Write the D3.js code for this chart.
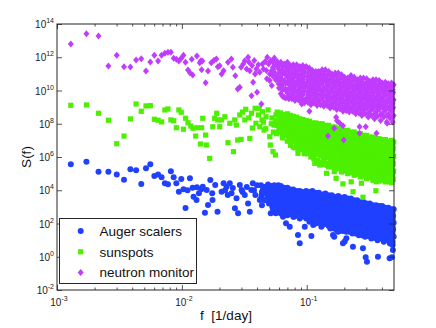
<!DOCTYPE html>
<html>
<head>
<meta charset="utf-8">
<script src="https://cdn.jsdelivr.net/npm/d3@7"></script>
<style>
body { margin: 0; background: #fff; }
svg { display: block; font-family: "Liberation Sans", Arial, Helvetica, sans-serif; }
</style>
</head>
<body>
<div id="chart"></div>
<script>
// periodogram points: [frequency (1/day), log10 S(f)]
var auger = [
  [0.00129,5.56],[0.00172,5.72],[0.00215,5.12],[0.00258,5.12],[0.00301,4.94],[0.00344,4.63],[0.00387,5.26],[0.0043,5.2],
  [0.00473,4.38],[0.00516,5.32],[0.00559,5.56],[0.00602,4.86],[0.00645,4.94],[0.00688,4.78],[0.00731,4.42],[0.00774,4.36],
  [0.00817,5.14],[0.0086,4.78],[0.00903,4.42],[0.00946,3.91],[0.00989,4.68],[0.0103,4.06],[0.0107,2.93],[0.0111,4.0],
  [0.0116,4.72],[0.0122,4.15],[0.0124,3.61],[0.0131,3.41],[0.0132,4.18],[0.0137,3.82],[0.0143,4.06],[0.0147,4.21],
  [0.0153,2.65],[0.0158,4.01],[0.0162,3.11],[0.0169,4.62],[0.0175,3.82],[0.0176,3.41],[0.0185,4.32],[0.0193,2.71],
  [0.0208,3.91],[0.0216,4.42],[0.0222,4.0],[0.0228,4.21],[0.0233,3.71],[0.0242,4.42],[0.025,3.82],[0.0256,4.13],
  [0.0266,2.91],[0.0274,3.52],[0.0282,2.61],[0.0291,4.32],[0.0301,4.01],[0.0306,3.9],[0.0319,3.71],[0.0331,4.2],
  [0.0339,3.21],[0.035,2.71],[0.036,4.01],[0.037,4.42],[0.0378,4.0],[0.0388,3.71],[0.04,4.3],[0.0421,3.41],
  [0.0435,3.7],[0.0445,4.01],[0.0463,4.0],[0.0472,4.21],[0.0481,3.5],[0.0506,3.82],[0.0515,2.61],[0.0522,4.1],
  [0.0565,2.61],[0.0573,3.7],[0.0593,4.3],[0.0608,3.4],[0.0646,2.41],[0.0682,2.01],[0.0731,1.81],
  [0.079,2.41],[0.0851,1.31],[0.0879,0.81],[0.0964,1.81],[0.109,1.25],[0.1126,1.91],[0.131,1.81],[0.1623,1.31],
  [0.178,1.51],[0.195,0.81],[0.2077,1.11],[0.2346,0.6],[0.282,0.51],[0.2965,-0.03],[0.3036,-0.3],[0.372,0.0],
  [0.461,-0.09],[0.49,0.41],[0.2014,0.91],[0.166,1.21],[0.481,-0.03],
  [.043,4.3],[.0438,3.9],[.043,3.5],[.0438,3.1],[.046,4.2],[.0468,3.8],[.046,3.4],
  [.049,4.35],[.0498,3.95],[.049,3.55],[.0498,3.2],[.052,4.25],[.053,3.85],[.052,3.45],[.053,3.0],
  [.055,4.3],[.0565,3.9],[.055,3.5],[.0565,3.1],[.055,2.7],[.058,4.2],[.0595,3.8],[.058,3.35],[.0595,2.9],
  [.062,4.25],[.0635,3.85],[.062,3.45],[.0635,3.05],[.062,2.6],[.066,4.15],[.0675,3.75],[.066,3.3],[.0675,2.85],
  [.070,4.15],[.072,3.75],[.070,3.35],[.072,2.95],[.070,2.5],[.074,4.05],[.076,3.65],[.074,3.2],[.076,2.75],
  [.078,4.05],[.0805,3.65],[.078,3.25],[.0805,2.85],[.078,2.4],[.083,3.95],[.0855,3.55],[.083,3.1],[.0855,2.65],
  [.088,3.95],[.0905,3.55],[.088,3.15],[.0905,2.7],[.088,2.3],[.093,3.9],[.0955,3.5],[.093,3.05],[.0955,2.6],
  [.099,3.95],[.102,3.55],[.099,3.15],[.102,2.75],[.099,2.3],[.105,3.9],[.108,3.45],[.105,3.0],[.108,2.55],[.105,2.1],
  [.111,3.95],[.114,3.55],[.111,3.15],[.114,2.75],[.111,2.3],[.118,3.85],[.121,3.4],[.118,2.95],[.121,2.5],[.118,2.0],
  [.125,3.85],[.129,3.45],[.125,3.05],[.129,2.65],[.125,2.2],[.133,3.75],[.137,3.3],[.133,2.85],[.137,2.4],[.133,1.9],
  [.141,3.8],[.145,3.4],[.141,3.0],[.145,2.6],[.141,2.15],[.150,3.7],[.154,3.25],[.150,2.8],[.154,2.35],[.150,1.85],
  [.159,3.7],[.164,3.3],[.159,2.9],[.164,2.5],[.159,2.05],[.164,1.7],[.169,3.6],[.174,3.15],[.169,2.7],[.174,2.25],[.169,1.8],
  [.179,3.65],[.184,3.25],[.179,2.85],[.184,2.45],[.179,2.0],[.184,1.55],[.190,3.55],[.195,3.1],[.190,2.65],[.195,2.2],[.190,1.75],
  [.201,3.6],[.207,3.2],[.201,2.8],[.207,2.4],[.201,1.95],[.207,1.5],[.213,3.5],[.219,3.05],[.213,2.6],[.219,2.15],[.213,1.7],
  [.226,3.5],[.232,3.1],[.226,2.7],[.232,2.3],[.226,1.85],[.232,1.4],[.240,3.4],[.247,2.95],[.240,2.5],[.247,2.05],[.240,1.6],
  [.254,3.4],[.261,3.0],[.254,2.6],[.261,2.2],[.254,1.75],[.261,1.3],[.269,3.3],[.276,2.85],[.269,2.4],[.276,1.95],[.269,1.5],
  [.285,3.3],[.293,2.9],[.285,2.5],[.293,2.1],[.285,1.65],[.293,1.2],[.302,3.2],[.311,2.8],[.302,2.35],[.311,1.9],[.302,1.45],
  [.320,3.2],[.329,2.8],[.320,2.4],[.329,2.0],[.320,1.55],[.329,1.1],[.339,3.1],[.349,2.7],[.339,2.25],[.349,1.8],[.339,1.35],
  [.359,3.1],[.369,2.7],[.359,2.3],[.369,1.9],[.359,1.45],[.369,1.0],[.380,3.05],[.391,2.65],[.380,2.2],[.391,1.75],[.380,1.3],
  [.402,3.05],[.414,2.65],[.402,2.25],[.414,1.85],[.402,1.4],[.414,0.9],[.426,2.95],[.438,2.55],[.426,2.1],[.438,1.65],[.426,1.2],
  [.451,2.95],[.464,2.55],[.451,2.15],[.464,1.75],[.451,1.3],[.464,0.8],[.478,2.85],[.488,2.45],[.478,2.0],[.488,1.55],[.478,1.1],[.488,0.7],
  [.497,2.85],[.492,2.45],[.497,2.05],[.492,1.65],[.497,1.2]
];

var sunspots = [
  [0.00129,9.11],[0.00172,9.13],[0.00215,8.63],[0.00258,8.21],[0.00301,6.8],[0.00344,7.26],[0.00387,8.29],[0.0043,9.19],
  [0.00473,8.75],[0.00516,9.07],[0.00559,9.09],[0.00602,8.27],[0.00645,8.21],[0.00688,8.11],[0.00731,8.83],[0.00774,8.89],
  [0.00817,8.23],[0.0086,8.18],[0.00903,7.76],[0.00946,8.83],[0.00989,8.69],[0.0103,7.67],[0.0107,8.33],[0.0112,8.06],
  [0.0118,7.86],[0.0123,7.73],[0.0129,7.26],[0.0132,7.76],[0.0141,6.78],[0.0144,7.76],[0.0147,8.33],[0.0155,7.32],
  [0.0157,6.72],[0.0167,5.92],[0.0177,7.82],[0.0183,8.33],[0.019,8.63],[0.0194,8.23],
  [0.0201,7.82],[0.0208,8.23],[0.0221,8.42],[0.0234,6.86],[0.0242,8.03],[0.0259,6.32],[0.0265,8.23],[0.0273,7.92],
  [0.028,7.02],[0.0291,8.53],[0.0298,7.06],[0.0306,8.7],[0.0319,8.23],[0.0325,8.87],[0.0343,8.35],[0.035,7.12],
  [0.0361,8.63],[0.0367,7.74],[0.0386,8.93],[0.0392,8.03],[0.041,8.53],[0.0415,8.93],[0.0421,7.82],[0.0438,8.23],
  [0.0442,8.72],[0.0455,7.62],[0.0472,8.42],[0.049,8.83],[0.0506,7.22],[0.0511,6.72],[0.0526,8.35],[0.0537,6.32],
  [0.0546,7.92],[0.0567,8.53],[0.0561,6.12],
  [0.045,8.1],[0.047,7.7],[0.052,8.0],[0.054,7.5],[0.056,8.2],[0.0575,7.4],
  [0.0851,6.22],[0.116,5.62],[0.127,5.52],[0.144,5.02],[0.166,5.12],[0.172,4.72],[0.195,4.38],[0.227,4.51],
  [0.235,3.91],[0.274,4.42],[0.282,3.58],[0.362,4.51],[0.358,3.97],
  [.058,8.7],[.0595,8.3],[.058,7.9],[.0595,7.5],[.062,8.65],[.0635,8.25],[.062,7.85],[.0635,7.4],
  [.066,8.55],[.0675,8.15],[.066,7.75],[.0675,7.3],[.070,8.6],[.072,8.2],[.070,7.8],[.072,7.35],[.070,6.95],
  [.074,8.5],[.076,8.1],[.074,7.65],[.076,7.2],[.074,6.7],[.078,8.45],[.0805,8.05],[.078,7.6],[.0805,7.15],[.078,6.6],
  [.083,8.4],[.0855,8.0],[.083,7.6],[.0855,7.2],[.083,6.8],[.0855,6.45],[.088,8.3],[.0905,7.9],[.088,7.5],[.0905,7.05],[.088,6.6],
  [.093,8.25],[.0955,7.85],[.093,7.45],[.0955,7.0],[.093,6.55],[.0955,6.2],[.099,8.2],[.102,7.8],[.099,7.35],[.102,6.9],[.099,6.4],
  [.105,8.15],[.108,7.75],[.105,7.35],[.108,6.95],[.105,6.5],[.108,6.0],[.111,8.05],[.114,7.65],[.111,7.2],[.114,6.75],[.111,6.3],[.114,5.9],
  [.118,8.05],[.121,7.65],[.118,7.25],[.121,6.85],[.118,6.4],[.121,5.8],[.125,8.0],[.129,7.55],[.125,7.15],[.129,6.7],[.125,6.25],[.129,5.7],
  [.133,8.0],[.137,7.6],[.133,7.2],[.137,6.8],[.133,6.35],[.137,5.9],[.133,5.55],[.141,7.9],[.145,7.5],[.141,7.05],[.145,6.6],[.141,6.15],[.145,5.6],
  [.150,7.9],[.154,7.5],[.150,7.1],[.154,6.7],[.150,6.25],[.154,5.8],[.150,5.4],[.159,7.8],[.164,7.4],[.159,6.95],[.164,6.5],[.159,6.05],[.164,5.55],
  [.169,7.8],[.174,7.4],[.169,7.0],[.174,6.6],[.169,6.15],[.174,5.7],[.169,5.25],[.179,7.7],[.184,7.3],[.179,6.85],[.184,6.4],[.179,5.95],[.184,5.45],
  [.190,7.7],[.195,7.3],[.190,6.9],[.195,6.5],[.190,6.05],[.195,5.6],[.190,5.1],[.201,7.6],[.207,7.2],[.201,6.75],[.207,6.3],[.201,5.85],[.207,5.35],
  [.213,7.6],[.219,7.2],[.213,6.8],[.219,6.4],[.213,5.95],[.219,5.5],[.213,5.0],[.226,7.5],[.232,7.1],[.226,6.65],[.232,6.2],[.226,5.75],[.232,5.25],
  [.240,7.5],[.247,7.1],[.240,6.7],[.247,6.3],[.240,5.85],[.247,5.4],[.240,4.9],[.254,7.4],[.261,7.0],[.254,6.55],[.261,6.1],[.254,5.65],[.261,5.15],
  [.269,7.4],[.276,7.0],[.269,6.6],[.276,6.2],[.269,5.75],[.276,5.3],[.269,4.8],[.285,7.3],[.293,6.9],[.285,6.45],[.293,6.0],[.285,5.55],[.293,5.05],
  [.302,7.3],[.311,6.9],[.302,6.5],[.311,6.1],[.302,5.65],[.311,5.2],[.302,4.7],[.320,7.2],[.329,6.8],[.320,6.35],[.329,5.9],[.320,5.45],[.329,4.95],
  [.339,7.2],[.349,6.8],[.339,6.4],[.349,6.0],[.339,5.55],[.349,5.1],[.339,4.6],[.359,7.1],[.369,6.7],[.359,6.25],[.369,5.8],[.359,5.35],[.369,4.85],
  [.380,7.1],[.391,6.7],[.380,6.3],[.391,5.9],[.380,5.45],[.391,5.0],[.380,4.55],[.402,7.05],[.414,6.65],[.402,6.2],[.414,5.75],[.402,5.3],[.414,4.8],
  [.426,7.05],[.438,6.65],[.426,6.25],[.438,5.85],[.426,5.4],[.438,4.95],[.426,4.5],[.451,6.95],[.464,6.55],[.451,6.1],[.464,5.65],[.451,5.2],[.464,4.7],
  [.478,7.0],[.488,6.6],[.478,6.2],[.488,5.8],[.478,5.35],[.488,4.9],[.478,4.45],[.497,6.9],[.492,6.5],[.497,6.05],[.492,5.6],[.497,5.15],[.492,4.65]
];

var neutron = [
  [0.00129,12.8],[0.00172,13.42],[0.00215,13.28],[0.00258,11.47],[0.00301,12.12],[0.00344,11.43],[0.00387,11.41],[0.0043,11.83],
  [0.00473,11.91],[0.00516,11.17],[0.00559,11.71],[0.00602,12.12],[0.00645,11.77],[0.00688,12.12],[0.00731,12.24],[0.00774,12.3],
  [0.00817,12.3],[0.0086,11.94],[0.00903,11.88],[0.00946,11.77],[0.00989,11.94],[0.0103,12.12],[0.0107,11.7],[0.0112,11.23],
  [0.0116,11.07],[0.012,11.88],[0.0122,10.93],[0.0132,12.08],[0.0139,11.67],[0.0142,11.79],[0.0144,11.25],[0.0146,11.77],
  [0.0155,10.47],[0.0162,11.17],[0.0172,11.67],[0.0181,11.82],[0.0189,11.89],[0.0194,11.43],[0.0201,11.49],[0.0208,10.99],
  [0.0216,11.19],[0.0234,11.7],[0.0249,11.89],[0.0256,11.4],[0.0268,10.89],[0.028,10.09],[0.0291,10.19],[0.0298,11.4],
  [0.0319,11.79],[0.0339,12.0],[0.035,11.19],[0.0372,10.49],[0.0361,9.69],[0.04,9.89],[0.0433,9.19],[0.0386,10.99],
  [0.0442,11.59],[0.0483,12.0],[0.0506,10.99],[0.0537,11.4],
  [0.031,11.6],[0.033,11.3],[0.0345,11.7],[0.0365,11.5],[0.038,11.8],[0.0395,11.3],[0.041,11.55],[0.042,11.1],
  [0.045,11.3],[0.0465,11.75],[0.0475,11.2],[0.0495,11.6],[0.0515,11.8],[0.0525,11.2],[0.0545,11.0],
  [0.048,10.7],[0.0505,10.6],[0.0525,10.3],
  [.0912,9.19],[.105,8.75],[.113,9.29],[.148,7.26],[.198,7.02],[.175,8.18],[.195,7.88],[.265,7.82],[.297,7.82],
  [.362,7.43],[.44,8.03],[.172,8.39],[.166,7.73],[.184,8.03],[.265,7.43],
  [.055,11.95],[.0565,11.5],[.055,11.1],[.0565,10.65],[.058,11.75],[.0595,11.3],[.058,10.85],[.0595,10.4],
  [.062,11.7],[.0635,11.2],[.062,10.75],[.0635,10.3],[.062,9.8],[.066,11.6],[.0675,11.15],[.066,10.6],[.0675,10.1],[.066,9.6],
  [.070,11.7],[.072,11.25],[.070,10.8],[.072,10.35],[.070,9.85],[.072,9.5],[.074,11.5],[.076,11.05],[.074,10.6],[.076,10.15],[.074,9.65],
  [.078,11.55],[.0805,11.1],[.078,10.7],[.0805,10.25],[.078,9.8],[.0805,9.4],[.083,11.55],[.0855,10.95],[.083,10.5],[.0855,10.05],[.083,9.6],
  [.088,11.45],[.0905,11.0],[.088,10.6],[.0905,10.2],[.088,9.7],[.0905,9.3],[.093,11.5],[.0955,11.1],[.093,10.65],[.0955,10.2],[.093,9.75],[.0955,9.25],
  [.099,11.45],[.102,10.85],[.099,10.4],[.102,9.95],[.099,9.5],[.105,11.35],[.108,10.9],[.105,10.5],[.108,10.05],[.105,9.6],[.108,9.15],
  [.111,11.2],[.114,10.75],[.111,10.3],[.114,9.85],[.111,9.4],[.118,11.15],[.121,10.85],[.118,10.45],[.121,10.0],[.118,9.55],[.121,9.1],
  [.125,11.15],[.129,10.7],[.125,10.25],[.129,9.8],[.125,9.35],[.133,11.25],[.137,10.8],[.133,10.4],[.137,9.95],[.133,9.5],[.137,9.05],
  [.141,11.25],[.145,10.65],[.141,10.2],[.145,9.75],[.141,9.3],[.150,11.15],[.154,10.7],[.150,10.3],[.154,9.85],[.150,9.4],[.154,8.95],
  [.159,11.0],[.164,10.55],[.159,10.1],[.164,9.65],[.159,9.2],[.169,11.05],[.174,10.6],[.169,10.2],[.174,9.75],[.169,9.3],[.174,8.85],
  [.179,11.05],[.184,10.45],[.179,10.0],[.184,9.55],[.179,9.1],[.190,10.95],[.195,10.5],[.190,10.1],[.195,9.65],[.190,9.2],[.195,8.75],
  [.201,10.8],[.207,10.35],[.201,9.9],[.207,9.45],[.201,9.0],[.213,10.75],[.219,10.45],[.213,10.05],[.219,9.6],[.213,9.15],[.219,8.7],
  [.226,10.9],[.232,10.3],[.226,9.85],[.232,9.4],[.226,8.95],[.240,10.8],[.247,10.35],[.240,9.95],[.247,9.5],[.240,9.05],[.247,8.6],
  [.254,10.65],[.261,10.2],[.254,9.75],[.261,9.3],[.254,8.85],[.269,10.75],[.276,10.3],[.269,9.9],[.276,9.45],[.269,9.0],[.276,8.5],
  [.285,10.75],[.293,10.15],[.285,9.7],[.293,9.25],[.285,8.8],[.302,10.7],[.311,10.25],[.302,9.85],[.311,9.4],[.302,8.95],[.311,8.4],
  [.320,10.55],[.329,10.1],[.320,9.65],[.329,9.2],[.320,8.75],[.339,10.65],[.349,10.2],[.339,9.8],[.349,9.35],[.339,8.9],[.349,8.3],
  [.359,10.65],[.369,10.05],[.359,9.6],[.369,9.15],[.359,8.7],[.380,10.6],[.391,10.15],[.380,9.75],[.391,9.3],[.380,8.85],[.391,8.2],
  [.402,10.45],[.414,10.0],[.402,9.55],[.414,9.1],[.402,8.6],[.426,10.5],[.438,10.1],[.426,9.7],[.438,9.25],[.426,8.8],[.438,8.1],
  [.451,10.4],[.464,9.95],[.451,9.5],[.464,9.05],[.451,8.55],[.478,10.45],[.488,10.05],[.478,9.65],[.488,9.2],[.478,8.75],[.488,8.1],
  [.497,10.35],[.492,9.9],[.497,9.45],[.492,9.0],[.497,8.5]
];

// more points from the dense high-frequency clouds, one row per frequency: [f, log10 S, log10 S, ...]
var augerCloud = [
  [.0537,4.05,3.65,3.25,2.85],[.060,4.0,3.6,3.15,2.7],[.064,4.05,3.65,3.25,2.8],[.068,3.95,3.55,3.1,2.65],
  [.072,3.95,3.55,3.15,2.7],[.076,3.85,3.45,3.0,2.55],[.0805,3.85,3.45,3.05,2.6],[.0855,3.75,3.35,2.9,2.45],
  [.0905,3.75,3.35,2.95,2.5],[.096,3.7,3.3,2.85,2.4],[.102,3.75,3.35,2.95,2.5],[.108,3.7,3.25,2.8,2.35],
  [.1145,3.75,3.35,2.95,2.5,2.1],[.1215,3.65,3.2,2.75,2.3],[.129,3.65,3.25,2.85,2.45,2.0],[.137,3.55,3.1,2.65,2.2],
  [.1455,3.6,3.2,2.8,2.4,1.95],[.1545,3.5,3.05,2.6,2.1,1.7],[.164,3.5,3.1,2.7,2.3,1.85],[.174,3.4,2.95,2.5,2.05,1.6],
  [.1845,3.45,3.05,2.65,2.25,1.8],[.1955,3.35,2.9,2.45,2.0,1.55],[.207,3.4,3.0,2.6,2.2,1.75],[.2195,3.3,2.85,2.4,1.95,1.5],
  [.233,3.3,2.9,2.5,2.1,1.65],[.247,3.2,2.75,2.3,1.85,1.4],[.2615,3.2,2.8,2.4,2.0,1.55],[.277,3.1,2.65,2.2,1.75,1.3],
  [.2935,3.1,2.7,2.3,1.9,1.45],[.311,3.0,2.6,2.15,1.7,1.25],[.3295,3.0,2.6,2.2,1.8,1.35],[.349,2.9,2.5,2.05,1.6,1.15],
  [.3695,2.9,2.5,2.1,1.7,1.25],[.391,2.85,2.45,2.0,1.55,1.1],[.414,2.85,2.45,2.05,1.65,1.15],[.4385,2.75,2.35,1.9,1.45,1.0],
  [.4645,2.75,2.35,1.95,1.55,1.05],[.4875,2.65,2.25,1.8,1.35,0.9]
];
var sunspotsCloud = [
  [.060,8.5,8.1,7.7],[.064,8.45,8.05,7.6,7.15],[.068,8.4,8.0,7.55],[.072,8.4,8.0,7.55,7.15],
  [.076,8.3,7.9,7.45,7.0],[.0805,8.25,7.85,7.4,6.95,6.55],[.0855,8.2,7.8,7.4,7.0,6.6],[.0905,8.1,7.7,7.3,6.85,6.45],
  [.096,8.05,7.65,7.2,6.75,6.35],[.102,8.0,7.6,7.15,6.7,6.2],[.108,7.95,7.55,7.15,6.7,6.25],[.1145,7.85,7.45,7.0,6.55,6.1],
  [.1215,7.85,7.45,7.05,6.6,6.15,5.75],[.129,7.8,7.35,6.95,6.5,6.05],[.137,7.8,7.4,7.0,6.55,6.1,5.7],[.1455,7.7,7.3,6.85,6.4,5.95,5.5],
  [.1545,7.7,7.3,6.9,6.45,6.0,5.6],[.164,7.6,7.2,6.75,6.3,5.85,5.4],[.174,7.6,7.2,6.8,6.35,5.9,5.45],[.1845,7.5,7.1,6.65,6.2,5.75,5.3],
  [.1955,7.5,7.1,6.7,6.25,5.8,5.35],[.207,7.4,7.0,6.55,6.1,5.6,5.15],[.2195,7.4,7.0,6.6,6.15,5.7,5.25],[.233,7.3,6.9,6.45,6.0,5.5,5.05],
  [.247,7.3,6.9,6.5,6.05,5.6,5.15],[.2615,7.2,6.8,6.35,5.9,5.4,4.95],[.277,7.2,6.8,6.4,5.95,5.5,5.05],[.2935,7.1,6.7,6.25,5.8,5.3,4.85],
  [.311,7.1,6.7,6.3,5.85,5.4,4.95],[.3295,7.0,6.6,6.15,5.7,5.2,4.75],[.349,7.0,6.6,6.2,5.75,5.3,4.85],[.3695,6.9,6.5,6.05,5.6,5.1,4.65],
  [.391,6.9,6.5,6.1,5.65,5.2,4.75],[.414,6.85,6.45,6.0,5.55,5.05,4.6],[.4385,6.85,6.45,6.05,5.6,5.15,4.7],[.4645,6.75,6.35,5.9,5.45,4.95,4.5],
  [.4875,6.8,6.4,6.0,5.55,5.1,4.65]
];
var neutronCloud = [
  [.0537,11.7,11.25,10.85],[.060,11.5,11.05,10.6,10.15],[.064,11.45,11.0,10.5,10.05,9.65],[.068,11.4,10.95,10.45,10.0,9.55],
  [.072,11.45,11.0,10.55,10.1,9.65],[.076,11.3,10.85,10.4,9.95,9.5],[.0805,11.35,10.9,10.45,10.0,9.6],[.0855,11.2,10.75,10.3,9.85,9.45],
  [.0905,11.25,10.8,10.4,9.95,9.5],[.096,11.3,10.85,10.4,9.95,9.45],[.102,11.1,10.65,10.2,9.75,9.3],[.108,11.15,10.7,10.25,9.8,9.35],
  [.1145,11.05,10.55,10.1,9.65,9.25],[.1215,11.1,10.65,10.2,9.75,9.3],[.129,10.95,10.5,10.05,9.6,9.15],[.137,11.05,10.6,10.15,9.7,9.25],
  [.1455,10.9,10.45,10.0,9.55,9.1],[.1545,10.95,10.5,10.05,9.6,9.15],[.164,10.8,10.35,9.9,9.45,9.0],[.174,10.85,10.4,9.95,9.5,9.05],
  [.1845,10.7,10.25,9.8,9.35,8.9],[.1955,10.75,10.3,9.85,9.4,8.95],[.207,10.6,10.15,9.7,9.25,8.8],[.2195,10.7,10.25,9.8,9.35,8.9],
  [.233,10.55,10.1,9.65,9.2,8.75],[.247,10.6,10.15,9.7,9.25,8.8],[.2615,10.45,10.0,9.55,9.1,8.65],[.277,10.55,10.1,9.65,9.2,8.75],
  [.2935,10.4,9.95,9.5,9.05,8.6],[.311,10.5,10.05,9.6,9.15,8.65],[.3295,10.35,9.9,9.45,9.0,8.5],[.349,10.45,10.0,9.55,9.1,8.6],
  [.3695,10.3,9.85,9.4,8.95,8.45],[.391,10.4,9.95,9.5,9.05,8.55],[.414,10.25,9.8,9.35,8.9,8.4],[.4385,10.3,9.85,9.4,8.95,8.5],
  [.4645,10.2,9.75,9.3,8.85,8.35],[.4875,10.25,9.8,9.35,8.9,8.4]
];

var seriesNames = ["Auger scalers", "sunspots", "neutron monitor"];
var seriesColors = ["#2040ff", "#4cf000", "#c03cff"];
var xTickExp = [-3, -2, -1];
var yTickExp = [-2, 0, 2, 4, 6, 8, 10, 12, 14];

var w = 436, h = 328;
var pLeft = 57, pRight = 394, pTop = 24, pBottom = 290;

function withCloud(points, cloud){
    var out = points.slice();
    cloud.forEach(function(row){
        for (var k = 1; k < row.length; k++) out.push([row[0], row[k]]);
    });
    return out;
}
var series = [withCloud(auger, augerCloud), withCloud(sunspots, sunspotsCloud), withCloud(neutron, neutronCloud)];

var svg = d3.select("#chart").append("svg")
    .attr("width", w)
    .attr("height", h)
    .style("background-color", "white");

var x = d3.scaleLog().domain([1e-3, 0.5]).range([pLeft, pRight]);
var y = d3.scaleLog().domain([1e-2, 1e14]).range([pBottom, pTop]);

// minor ticks on the log x axis (2..9 per decade)
var xMinor = [];
xTickExp.forEach(function(e){
    for (var j = 2; j < 10; j++) {
        var v = j * Math.pow(10, e);
        if (v < 0.5) xMinor.push(v);
    }
});
var xMajor = xTickExp.map(function(e){ return Math.pow(10, e); });
var yMajor = yTickExp.map(function(e){ return Math.pow(10, e); });

// markers
var symbols = [
    function(g){ g.append("circle").attr("r", 3); },
    function(g){ g.append("rect").attr("x", -2.6).attr("y", -2.6).attr("width", 5.2).attr("height", 5.2); },
    function(g){ g.append("path").attr("d", "M0,-3.5L3,0L0,3.5L-3,0Z"); }
];

series.forEach(function(data, i){
    var g = svg.append("g").attr("fill", seriesColors[i]);
    g.selectAll("g")
        .data(data)
        .enter()
        .append("g")
        .attr("transform", function(d){
            return "translate(" + x(d[0]).toFixed(2) + "," + y(Math.pow(10, d[1])).toFixed(2) + ")";
        })
        .each(function(){ symbols[i](d3.select(this)); });
});

// axes: inward ticks on all four sides
function styleAxis(g){
    g.select(".domain").remove();
    g.selectAll("line").attr("stroke", "#262626").attr("stroke-width", 0.8);
}
svg.append("g").attr("transform", "translate(0," + pBottom + ")")
    .call(d3.axisBottom(x).tickValues(xMajor).tickSize(-5).tickFormat("")).call(styleAxis);
svg.append("g").attr("transform", "translate(0," + pBottom + ")")
    .call(d3.axisBottom(x).tickValues(xMinor).tickSize(-2.5).tickFormat("")).call(styleAxis);
svg.append("g").attr("transform", "translate(0," + pTop + ")")
    .call(d3.axisTop(x).tickValues(xMajor).tickSize(-5).tickFormat("")).call(styleAxis);
svg.append("g").attr("transform", "translate(0," + pTop + ")")
    .call(d3.axisTop(x).tickValues(xMinor).tickSize(-2.5).tickFormat("")).call(styleAxis);
svg.append("g").attr("transform", "translate(" + pLeft + ",0)")
    .call(d3.axisLeft(y).tickValues(yMajor).tickSize(-5).tickFormat("")).call(styleAxis);
svg.append("g").attr("transform", "translate(" + pRight + ",0)")
    .call(d3.axisRight(y).tickValues(yMajor).tickSize(-5).tickFormat("")).call(styleAxis);

svg.append("rect")
    .attr("x", pLeft).attr("y", pTop)
    .attr("width", pRight - pLeft).attr("height", pBottom - pTop)
    .attr("fill", "none").attr("stroke", "#262626").attr("stroke-width", 1);

// tick labels as 10 with superscript exponent
xTickExp.forEach(function(e){
    var t = svg.append("text")
        .attr("x", x(Math.pow(10, e)) + 2)
        .attr("y", 306)
        .attr("text-anchor", "middle")
        .attr("fill", "#222");
    t.append("tspan").attr("font-size", 10).text("10");
    t.append("tspan").attr("font-size", 7).attr("dy", -5).text(String(e));
});
yTickExp.forEach(function(e){
    var t = svg.append("text")
        .attr("x", 54)
        .attr("y", y(Math.pow(10, e)) + 4)
        .attr("text-anchor", "end")
        .attr("fill", "#222");
    t.append("tspan").attr("font-size", 10).text("10");
    t.append("tspan").attr("font-size", 7).attr("dy", -5).text(String(e));
});

// axis titles
svg.append("text")
    .attr("x", 226).attr("y", 320)
    .attr("text-anchor", "middle")
    .attr("font-size", 13.5)
    .style("white-space", "pre")
    .attr("fill", "#111")
    .text("f  [1/day]");
svg.append("text")
    .attr("transform", "translate(31,157) rotate(-90)")
    .attr("text-anchor", "middle")
    .attr("font-size", 13.5)
    .attr("fill", "#111")
    .text("S(f)");

// legend
var lg = svg.append("g");
lg.append("rect")
    .attr("x", 59.5).attr("y", 218.5).attr("width", 137).attr("height", 65)
    .attr("fill", "white").attr("stroke", "#262626").attr("stroke-width", 1);
seriesNames.forEach(function(name, i){
    var cy = 231 + i * 20.8;
    var m = lg.append("g").attr("fill", seriesColors[i]).attr("transform", "translate(80.7," + cy + ")");
    symbols[i](m);
    lg.append("text")
        .attr("x", 99.5).attr("y", cy + 4.8)
        .attr("font-size", 13.5)
        .attr("fill", "#111")
        .text(name);
});
</script>
</body>
</html>
